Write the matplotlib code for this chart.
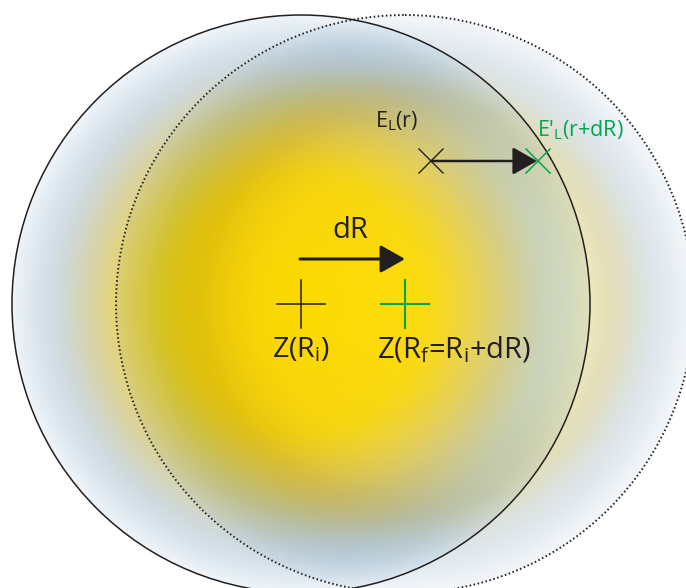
import numpy as np
import matplotlib
matplotlib.use('Agg')
import matplotlib.pyplot as plt
from matplotlib.patches import Circle, FancyArrowPatch

plt.rcParams['font.family'] = ['Open Sans', 'DejaVu Sans']
plt.rcParams['mathtext.fontset'] = 'custom'
plt.rcParams['mathtext.rm'] = 'Open Sans'
plt.rcParams['mathtext.it'] = 'Open Sans'

W, H = 686, 588

# circles (pixel units): initial (solid) and shifted (dotted)
center_i = (301, 304)
center_f = (405, 304)
radius = 289

# radial gradient stops (fraction of radius -> rgb 0..255)
stops_i = [0.0, 0.45, 0.60, 0.72, 0.85, 0.95, 1.0]
cols_i = [(255, 222, 0), (252, 220, 20), (236, 214, 95), (216, 210, 160),
          (205, 218, 228), (222, 233, 241), (245, 249, 252)]
stops_f = [0.0, 0.50, 0.62, 0.72, 0.85, 0.95, 1.0]
cols_f = [(255, 255, 228), (250, 248, 215), (240, 235, 192), (226, 220, 180),
          (218, 228, 234), (232, 239, 245), (248, 250, 252)]

green = '#00A651'
ink = '#231f20'


def shade(cx, cy, stops, cols):
    # smoothed 1-D lookup table so the gradient has no visible rings
    t = np.linspace(-0.2, 1.2, 701)
    c = np.array(cols) / 255.0
    k = np.exp(-0.5 * (np.arange(-60, 61) * 0.002 / 0.035) ** 2)
    k /= k.sum()
    lut = []
    for ch in range(3):
        v = np.interp(t, stops, c[:, ch])
        lut.append(np.convolve(np.pad(v, 60, mode='edge'), k, mode='valid'))
    yy, xx = np.mgrid[0:H, 0:W] + 0.5
    r = np.hypot(xx - cx, yy - cy) / radius
    out = np.ones((H, W, 3))
    for ch in range(3):
        out[..., ch] = np.where(r <= 1, np.interp(r, t, lut[ch]), 1.0)
    return out


img = shade(*center_i, stops_i, cols_i) * shade(*center_f, stops_f, cols_f)

fig = plt.figure(figsize=(W / 100, H / 100), dpi=100)
ax = fig.add_axes([0, 0, 1, 1])
ax.imshow(img, extent=(0, W, H, 0), interpolation='bilinear')
ax.set_xlim(0, W)
ax.set_ylim(H, 0)
ax.axis('off')

ax.add_patch(Circle(center_i, radius, fill=False, ec=ink, lw=1.1))
ax.add_patch(Circle(center_f, radius, fill=False, ec=ink, lw=1.4,
                    linestyle=(0, (0.8, 1.3))))

# crosses at the two centres
s = 24
ax.plot([center_i[0] - s, center_i[0] + s], [center_i[1]] * 2, color=ink, lw=1.1)
ax.plot([center_i[0]] * 2, [center_i[1] - s, center_i[1] + s], color=ink, lw=1.1)
ax.plot([center_f[0] - s, center_f[0] + s], [center_f[1]] * 2, color=green, lw=1.5)
ax.plot([center_f[0]] * 2, [center_f[1] - s, center_f[1] + s], color=green, lw=1.5)

# E_L points
pL = (431, 161)
pL2 = (538, 161)
x = 12
ax.plot([pL[0] - x, pL[0] + x], [pL[1] - x, pL[1] + x], color=ink, lw=1.0)
ax.plot([pL[0] - x, pL[0] + x], [pL[1] + x, pL[1] - x], color=ink, lw=1.0)
ax.plot([pL2[0] - x, pL2[0] + x], [pL2[1] - x, pL2[1] + x], color=green, lw=1.1)
ax.plot([pL2[0] - x, pL2[0] + x], [pL2[1] + x, pL2[1] - x], color=green, lw=1.1)

ax.add_patch(FancyArrowPatch(pL, (537, 161), arrowstyle='-|>,head_length=15,head_width=8.5',
                             mutation_scale=1, shrinkA=0, shrinkB=0, color=ink, lw=1.8))
ax.add_patch(FancyArrowPatch((300, 259), (405, 259), arrowstyle='-|>,head_length=15,head_width=8.5',
                             mutation_scale=1, shrinkA=0, shrinkB=0, color=ink, lw=2.2))

# labels
ax.text(332, 238, 'dR', fontsize=21, color=ink, va='baseline')
ax.text(272, 358, r'Z(R$_\mathrm{i}$)', fontsize=20.5, color=ink, va='baseline')
ax.text(377, 358, r'Z(R$_\mathrm{f}$=R$_\mathrm{i}$+dR)', fontsize=21, color=ink, va='baseline')
ax.text(375, 127, r'E$_\mathrm{L}$(r)', fontsize=15.5, color=ink, va='baseline')
ax.text(537, 136, r"E$'_\mathrm{L}$(r+dR)", fontsize=15.5, color=green, va='baseline')

fig.savefig('out.png', dpi=100)
